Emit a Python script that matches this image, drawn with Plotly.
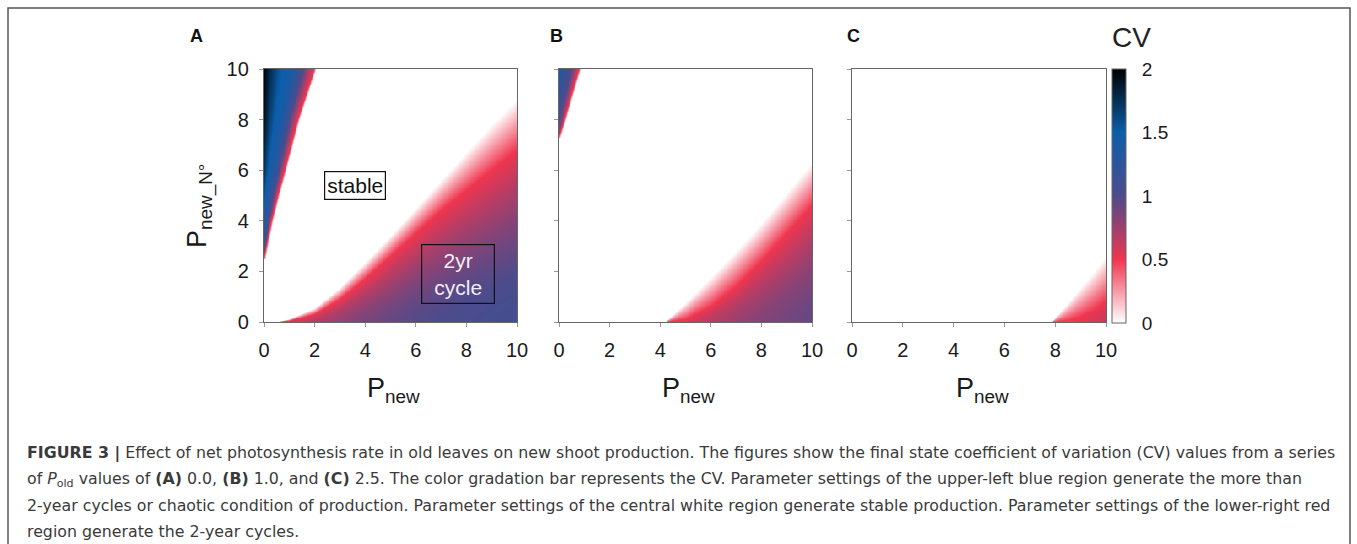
import numpy as np
import plotly.graph_objects as go

W, H = 1357, 544

# ---------------- data ----------------
# Lower-right (2-year cycle) region: CV=0 edge (y0), CV=0.5 ridge (yr), CV along y=0 (cb)
A_low_x  = [0.5, 1, 2, 3, 4, 5, 6, 7, 8, 9, 10]
A_low_y0 = [0, 0.12, 0.55, 1.35, 2.35, 3.4, 4.5, 5.6, 6.7, 7.8, 8.8]
A_low_yr = [0, 0.05, 0.3, 0.9, 1.7, 2.6, 3.5, 4.4, 5.2, 6.0, 6.8]
A_low_cb = [0.45, 0.55, 0.68, 0.78, 0.86, 0.92, 0.97, 1.0, 1.03, 1.05, 1.07]

B_low_x  = [4.2, 5, 6, 7, 8, 9, 10]
B_low_y0 = [0, 0.75, 1.75, 2.8, 3.9, 5.1, 6.3]
B_low_yr = [0, 0.1, 0.6, 1.4, 2.4, 3.5, 4.6]
B_low_cb = [0.4, 0.55, 0.67, 0.76, 0.83, 0.88, 0.93]

C_low_x  = [7.85, 8.5, 9, 9.5, 10]
C_low_y0 = [0, 0.75, 1.35, 1.95, 2.6]
C_low_yr = [0, 0.05, 0.2, 0.45, 0.8]
C_low_cb = [0.3, 0.45, 0.52, 0.58, 0.62]

# Upper-left (chaotic) region: right edge x (xb) and CV at x=0 (cl) per row
A_up_y  = [2.5, 3, 4, 5, 6, 7, 8, 9, 10]
A_up_xb = [0, 0.1, 0.3, 0.55, 0.82, 1.08, 1.34, 1.67, 2.0]
A_up_cl = [1.0, 1.3, 1.5, 1.65, 1.8, 1.88, 1.95, 1.98, 2.0]

B_up_y  = [7.3, 8, 9, 10]
B_up_xb = [0, 0.22, 0.5, 0.8]
B_up_cl = [0.9, 1.1, 1.3, 1.45]

# CV profile across the chaotic wedge (fraction of width -> CV at the top row)
PROFILE_T  = [0, 0.1, 0.3, 0.55, 0.75, 0.9, 1.0]
PROFILE_CV = [2.0, 1.8, 1.55, 1.4, 1.05, 0.7, 0.5]

TICKS = [0, 2, 4, 6, 8, 10]
CB_TICKS = [0, 0.5, 1, 1.5, 2]
CB_TEXT = ["0", "0.5", "1", "1.5", "2"]
PANELS = ["A", "B", "C"]

# ---------------- grid built from the arrays ----------------
N = 301
xs = np.linspace(0, 10, N)
ys = np.linspace(0, 10, N)
X, Y = np.meshgrid(xs, ys)
RISE = 1.6  # shape of the red -> purple transition below the ridge


def build(low, up):
    Z = np.zeros_like(X)
    lx, ly0, lyr, lcb = low
    y0 = np.interp(X, lx, ly0, left=-1.0)
    yr = np.interp(X, lx, lyr, left=-1.0)
    cb = np.interp(X, lx, lcb)
    band = (Y < y0) & (Y >= yr)
    Z[band] = 0.5 * (y0[band] - Y[band]) / np.maximum(y0[band] - yr[band], 1e-6)
    core = (Y < yr) & (yr > 0)
    Z[core] = cb[core] + (0.5 - cb[core]) * (Y[core] / yr[core]) ** RISE
    if up is not None:
        uy, uxb, ucl = up
        xb = np.interp(Y, uy, uxb, left=-1.0)
        cl = np.interp(Y, uy, ucl)
        m = (X < xb)
        t = X[m] / xb[m]
        p = np.interp(t, PROFILE_T, PROFILE_CV)
        s = (cl[m] - 0.5) / 1.5
        Z[m] = 0.5 + (p - 0.5) * s
        fw = 0.08
        f = (X >= xb) & (X < xb + fw) & (xb >= 0)
        Z[f] = np.maximum(Z[f], 0.5 * (1 - (X[f] - xb[f]) / fw))
    return Z


ZA = build((A_low_x, A_low_y0, A_low_yr, A_low_cb), (A_up_y, A_up_xb, A_up_cl))
ZB = build((B_low_x, B_low_y0, B_low_yr, B_low_cb), (B_up_y, B_up_xb, B_up_cl))
ZC = build((C_low_x, C_low_y0, C_low_yr, C_low_cb), None)

CS = [[0.0, "#ffffff"], [0.25, "#f0354f"], [0.5, "#4d4b8c"], [0.75, "#0b5eab"], [1.0, "#000000"]]

FONT = "Liberation Sans, Arial, sans-serif"
CAP_FONT = "DejaVu Sans, sans-serif"


def px(x):
    return x / W


def py(y):
    return 1 - y / H


x_dom = [(264, 517), (559, 812), (852, 1106)]
y_dom = [py(322), py(69)]

fig = go.Figure()
for i, Z in enumerate([ZA, ZB, ZC]):
    sfx = "" if i == 0 else str(i + 1)
    tr = go.Heatmap(
        x=xs, y=ys, z=Z, colorscale=CS, zmin=0, zmax=2,
        xaxis="x" + sfx, yaxis="y" + sfx, hoverinfo="skip",
        showscale=(i == 2),
    )
    if i == 2:
        tr.colorbar = dict(
            x=px(1112), xanchor="left", xpad=0,
            y=py((69 + 323) / 2), yanchor="middle", ypad=0,
            len=254 / H, lenmode="fraction", thickness=14,
            outlinecolor="#666", outlinewidth=1,
            tickvals=CB_TICKS, ticktext=CB_TEXT,
            ticks="outside", ticklen=12, tickcolor="rgba(0,0,0,0)",
            tickfont=dict(family=FONT, size=19, color="#1a1a1a"),
        )
    fig.add_trace(tr)

axis_common = dict(
    range=[0, 10], tickvals=TICKS, ticks="outside", ticklen=4, tickcolor="#999",
    showline=True, mirror=True, linecolor="#666", linewidth=1.3,
    showgrid=False, zeroline=False,
    tickfont=dict(family=FONT, size=20, color="#1a1a1a"),
)
layout = {}
for i in range(3):
    sfx = "" if i == 0 else str(i + 1)
    layout["xaxis" + sfx] = dict(axis_common, domain=[px(x_dom[i][0]), px(x_dom[i][1])],
                                 anchor="y" + sfx, ticklabelstandoff=6)
    layout["yaxis" + sfx] = dict(axis_common, domain=y_dom, anchor="x" + sfx,
                                 showticklabels=(i == 0), ticklabelstandoff=6)


def note(x, y, text, size, color="#1a1a1a", **kw):
    d = dict(x=px(x), y=py(y), xref="paper", yref="paper", text=text, showarrow=False,
             xanchor="center", yanchor="middle", font=dict(family=FONT, size=size, color=color))
    d.update(kw)
    return d


ann = []
# panel letters
for lab, xx in zip(PANELS, [196, 556, 853]):
    ann.append(note(xx, 36, "<b>%s</b>" % lab, 18, "#111"))
# x titles
for (a, b) in x_dom:
    ann.append(note((a + b) / 2 + 3, 390, "P<sub>new</sub>", 27))
# y title
ann.append(note(199, 206, "P<sub>new_N°</sub>", 27, textangle=-90))
# CV title
ann.append(note(1131, 38, "CV", 28, "#222"))
# region labels
ann.append(dict(x=3.6, y=5.4, xref="x", yref="y", text="stable", showarrow=False,
                xanchor="center", yanchor="middle",
                font=dict(family=FONT, size=21, color="#111"), bgcolor="#ffffff",
                bordercolor="#111", borderwidth=1.2, borderpad=2))
ann.append(dict(x=7.65, y=1.89, xref="x", yref="y", text="2yr<br>cycle", showarrow=False,
                xanchor="center", yanchor="middle",
                font=dict(family=FONT, size=21, color="#f4eef4"), width=70, height=56,
                bordercolor="#111", borderwidth=1.2, borderpad=1))
# caption
cap = [
    "<b>FIGURE 3 |</b> Effect of net photosynthesis rate in old leaves on new shoot production. The figures show the final state coefficient of variation (CV) values from a series",
    "of <i>P</i><sub>old</sub> values of <b>(A)</b> 0.0, <b>(B)</b> 1.0, and <b>(C)</b> 2.5. The color gradation bar represents the CV. Parameter settings of the upper-left blue region generate the more than",
    "2-year cycles or chaotic condition of production. Parameter settings of the central white region generate stable production. Parameter settings of the lower-right red",
    "region generate the 2-year cycles.",
]
for k, line in enumerate(cap):
    ann.append(dict(x=px(25), y=py(453 + 26 * k), xref="paper", yref="paper", text=line,
                    xanchor="left", yanchor="middle", showarrow=False,
                    font=dict(family=CAP_FONT, size=15.8, color="#3a3a3a")))

fig.update_layout(
    width=W, height=H, margin=dict(l=0, r=0, t=0, b=0, autoexpand=False),
    paper_bgcolor="white", plot_bgcolor="white", showlegend=False,
    annotations=ann,
    shapes=[dict(type="rect", xref="paper", yref="paper", x0=px(8), x1=px(1350),
                 y0=-0.1, y1=py(8), line=dict(color="#555", width=1.5))],
    **layout,
)
fig.write_html("out.html")
